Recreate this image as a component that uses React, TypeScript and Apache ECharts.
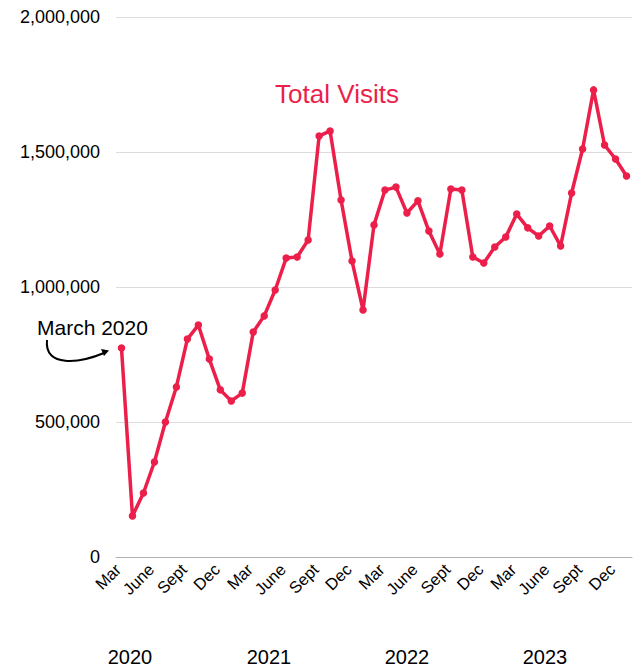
import React, { useEffect, useRef } from "react";
import * as echarts from "echarts";

const months = [
  "2020-03", "2020-04", "2020-05", "2020-06", "2020-07", "2020-08", "2020-09", "2020-10", "2020-11", "2020-12",
  "2021-01", "2021-02", "2021-03", "2021-04", "2021-05", "2021-06", "2021-07", "2021-08", "2021-09", "2021-10", "2021-11", "2021-12",
  "2022-01", "2022-02", "2022-03", "2022-04", "2022-05", "2022-06", "2022-07", "2022-08", "2022-09", "2022-10", "2022-11", "2022-12",
  "2023-01", "2023-02", "2023-03", "2023-04", "2023-05", "2023-06", "2023-07", "2023-08", "2023-09", "2023-10", "2023-11", "2023-12",
  "2024-01",
];

const totalVisits = [
  774000, 152000, 237000, 352000, 500000, 630000, 807000, 859000, 733000, 619000,
  578000, 607000, 833000, 893000, 989000, 1107000, 1111000, 1174000, 1559000, 1578000, 1322000, 1096000,
  915000, 1230000, 1359000, 1370000, 1274000, 1319000, 1207000, 1122000, 1363000, 1359000, 1111000, 1089000,
  1148000, 1185000, 1270000, 1219000, 1189000, 1226000, 1152000, 1348000, 1511000, 1730000, 1526000, 1474000,
  1411000,
];

const monthTickLabels: Record<string, string> = { "03": "Mar", "06": "June", "09": "Sept", "12": "Dec" };
const yearLabels = ["2020", "2021", "2022", "2023"];
const yTicks = [0, 500000, 1000000, 1500000, 2000000];

const RED = "#EC1E4A";
const FONT = "'Liberation Sans', Arial, Helvetica, sans-serif";

export default function App() {
  const ref = useRef<HTMLDivElement>(null);
  useEffect(() => {
    if (!ref.current) return;
    const chart = echarts.init(ref.current, undefined, { renderer: "svg" });
    const yearX = [130, 269, 407, 545];
    chart.setOption({
      animation: false,
      backgroundColor: "#ffffff",
      textStyle: { fontFamily: FONT },
      title: {
        text: "Total Visits",
        left: 332,
        top: 76,
        textAlign: "center",
        textStyle: { color: RED, fontSize: 26, fontWeight: "normal", fontFamily: FONT },
      },
      grid: { left: 116, right: 9, top: 17, bottom: 112, containLabel: false },
      xAxis: {
        type: "category",
        data: months,
        boundaryGap: true,
        axisLine: { show: true, lineStyle: { color: "#b0b0b0", width: 1 } },
        axisTick: { show: false },
        splitLine: { show: false },
        axisLabel: {
          rotate: 45,
          margin: 6,
          fontSize: 16.5,
          color: "#000",
          fontFamily: FONT,
          padding: [0, 5, 0, 0],
          interval: (i: number, v: string) => !!monthTickLabels[v.slice(5)],
          formatter: (v: string) => monthTickLabels[v.slice(5)] || "",
        },
      },
      yAxis: {
        type: "value",
        min: yTicks[0],
        max: yTicks[yTicks.length - 1],
        interval: yTicks[1] - yTicks[0],
        axisLine: { show: false },
        axisTick: { show: false },
        splitLine: { lineStyle: { color: "#dcdcdc", width: 1 } },
        axisLabel: {
          margin: 16,
          fontSize: 18,
          color: "#000",
          fontFamily: FONT,
          formatter: (v: number) => v.toLocaleString("en-US"),
        },
      },
      series: [
        {
          type: "line",
          data: totalVisits,
          symbol: "circle",
          symbolSize: 7.5,
          showSymbol: true,
          showAllSymbol: true,
          lineStyle: { color: RED, width: 3.5 },
          itemStyle: { color: RED },
          z: 3,
        },
      ],
      graphic: [
        ...yearLabels.map((y, i) => ({
          type: "text",
          x: yearX[i],
          y: 657,
          style: {
            text: y,
            fill: "#000",
            font: `20px ${FONT}`,
            textAlign: "center",
            textVerticalAlign: "middle",
          },
        })),
        {
          type: "text",
          x: 37,
          y: 327,
          style: {
            text: "March 2020",
            fill: "#000",
            font: `21px ${FONT}`,
            textAlign: "left",
            textVerticalAlign: "middle",
          },
        },
        {
          type: "bezierCurve",
          shape: { x1: 47, y1: 340, cpx1: 44, cpy1: 368, cpx2: 80, cpy2: 363, x2: 104, y2: 353 },
          style: { stroke: "#000", lineWidth: 2, fill: "none" },
        },
        {
          type: "polygon",
          shape: { points: [[109, 350.5], [101, 349], [104, 356]] },
          style: { fill: "#000" },
        },
      ],
    });
    return () => chart.dispose();
  }, []);
  return (
    <div
      ref={ref}
      style={{ position: "fixed", left: 0, top: 0, width: 641, height: 669, background: "#fff" }}
    />
  );
}
